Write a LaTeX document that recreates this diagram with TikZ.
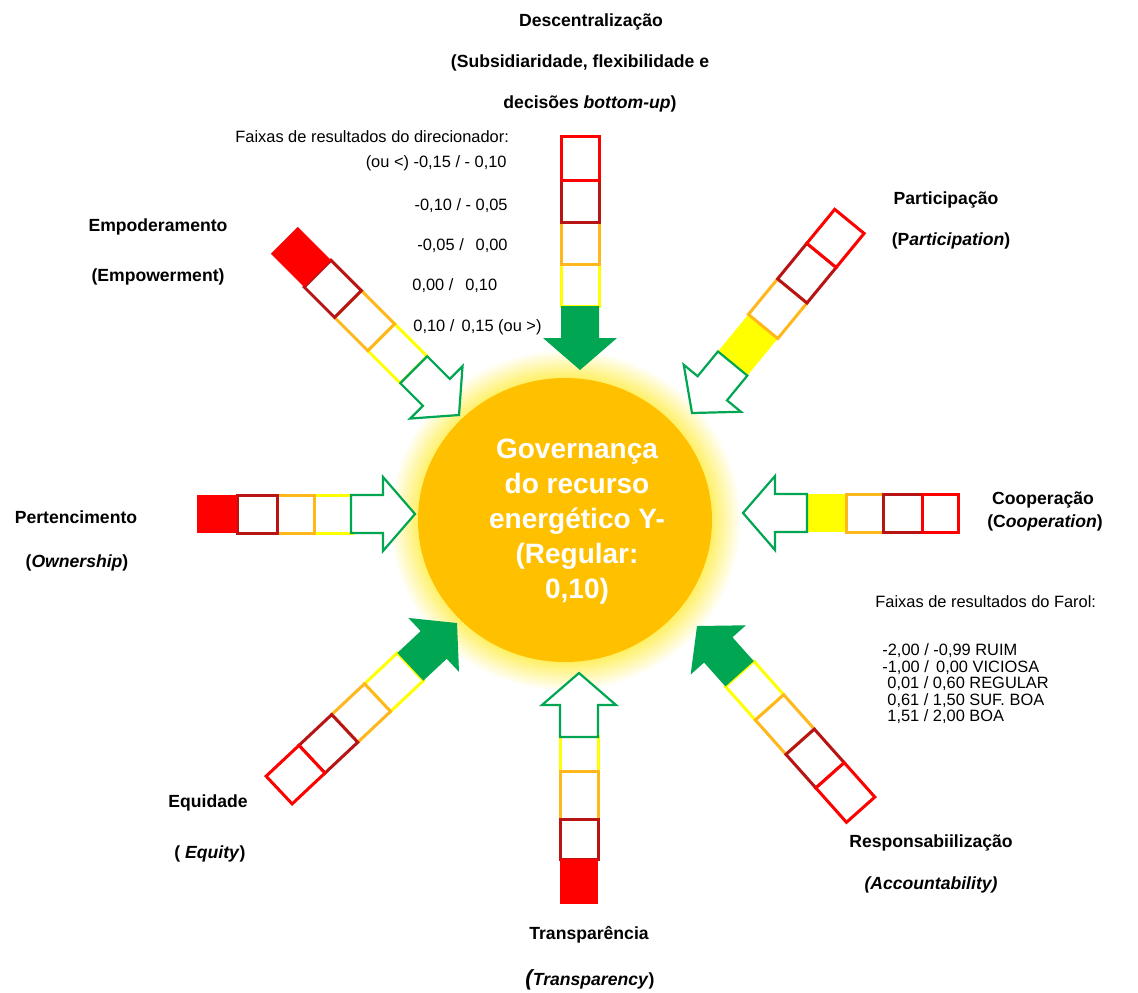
\documentclass[tikz,border=0pt]{standalone}
\usepackage{fontspec}
\setmainfont{Liberation Sans}
\definecolor{cred}{HTML}{FF0000}
\definecolor{cdark}{HTML}{B81414}
\definecolor{corange}{HTML}{FFB81C}
\definecolor{cyellow}{HTML}{FFFF00}
\definecolor{cgreen}{HTML}{00A651}
\definecolor{csun}{HTML}{FFC000}
\definecolor{chalo}{HTML}{FFEF5A}
\pgfdeclareradialshading{halo}{\pgfpointorigin}{color(0bp)=(chalo); color(20.5bp)=(chalo); color(25bp)=(white); color(50bp)=(white)}
\tikzset{
  lab/.style={font=\bfseries\fontsize{8.8}{10}\selectfont, inner sep=0pt},
  small/.style={font=\fontsize{8.2}{10}\selectfont, inner sep=0pt},
  hollowhead/.style={draw=cgreen, line width=1.1pt, fill=white, line join=miter},
  solidhead/.style={fill=cgreen, draw=none},
  cellline/.style={line width=1.5pt, fill=white},
}
% #1,#2: tip; #3: outward angle; #4: head style; #5: cells start/end/colour/filled
\newcommand{\farolarrow}[5]{%
  \begin{scope}[shift={(#1,#2)}, rotate=#3, x=0.5pt, y=0.5pt]
    \foreach \a/\b/\c/\f in {#5} {
      \ifnum\f=1
        \fill[\c] (\a,-19) rectangle (\b,19);
      \else
        \draw[cellline, draw=\c] (\a,-19) rectangle (\b,19);
      \fi
    }
    \path[#4] (0,0) -- (32,37) -- (32,19) -- (64,19) -- (64,-19) -- (32,-19) -- (32,-37) -- cycle;
  \end{scope}}
\begin{document}
\begin{tikzpicture}[x=0.5pt, y=-0.5pt]
  \useasboundingbox (0,0) rectangle (1138,992);
  \fill[white] (0,0) rectangle (1138,992);

  % central sun with glow
  \shade[shading=halo] (565,520) ellipse [x radius=176, y radius=171];
  \fill[csun] (565,520) ellipse [x radius=147, y radius=142];
  \node[font=\bfseries\fontsize{14}{17.5}\selectfont, text=white, align=center, inner sep=0pt]
    (sun) at (577,522) {Governança\\do recurso\\energético Y-\\(Regular:\\0,10)};

  % the eight drivers
  \farolarrow{580}{370}{90}{solidhead}{64/106/cyellow/0, 106/148/corange/0, 148/190/cdark/0, 190/234/cred/0}
  \farolarrow{579}{673}{-90}{hollowhead}{63/98/cyellow/0, 98/146/corange/0, 146/186/cdark/0, 186/231/cred/1}
  \farolarrow{415}{514}{180}{hollowhead}{63/101/cyellow/0, 101/138/corange/0, 138/178/cdark/0, 178/218/cred/1}
  \farolarrow{743}{513}{0}{hollowhead}{65/103/cyellow/1, 103/140/corange/0, 140/179/cdark/0, 179/215/cred/0}
  \farolarrow{459}{415}{135}{hollowhead}{64/110/cyellow/0, 110/157/corange/0, 157/200/cdark/0, 200/247/cred/1}
  \farolarrow{692}{413}{50.6}{hollowhead}{64/112/cyellow/1, 112/158/corange/0, 158/204/cdark/0, 204/248/cred/0}
  \farolarrow{457}{623}{223.2}{solidhead}{64/109/cyellow/0, 109/154/corange/0, 154/199/cdark/0, 199/244/cred/0}
  \farolarrow{697}{626}{-48.3}{solidhead}{64/109/cyellow/0, 109/155/corange/0, 155/200/cdark/0, 200/246/cred/0}

  % driver labels
  \node[lab] (dec1) at (591,22) {Descentralização};
  \node[lab] (dec2) at (580,63) {(Subsidiaridade, flexibilidade e};
  \node[lab] (dec3) at (590,104) {decisões \textit{bottom-up})};
  \node[lab] (par1) at (946,200) {Participação};
  \node[lab] (par2) at (951,241) {(P\textit{articipation})};
  \node[lab] (emp1) at (158,227) {Empoderamento};
  \node[lab] (emp2) at (158,277) {(Empowerment)};
  \node[lab] (per1) at (76,517) {Pertencimento};
  \node[lab] (per2) at (77,563) {(\textit{Ownership})};
  \node[lab] (coo1) at (1043,500) {Cooperação};
  \node[lab] (coo2) at (1045,523) {(C\textit{ooperation})};
  \node[lab] (equ1) at (208,803) {Equidade};
  \node[lab] (equ2) at (210,854) {( \textit{Equity})};
  \node[lab] (tra1) at (589,935) {Transparência};
  \node[lab] (tra2) at (590,980) {{\fontsize{11}{12}\selectfont\itshape(}\textit{Transparency})};
  \node[lab] (res1) at (931,843) {Responsabiilização};
  \node[lab] (res2) at (931,885) {\textit{(Accountability)}};

  % driver result bands
  \node[small, anchor=west] (dir0) at (235,137) {Faixas de resultados do direcionador:};
  \node[small, anchor=east] (dir1) at (507,163) {(ou <) -0,15 / - 0,10};
  \node[small, anchor=east] (dir2) at (508,206) {-0,10 / - 0,05};
  \node[small, anchor=east] (dir3) at (508,246) {-0,05 / \ \,0,00};
  \node[small, anchor=west] (dir4) at (412,286) {0,00 / \ \,0,10};
  \node[small, anchor=west] (dir5) at (413,327) {0,10 / \,0,15 (ou >)};

  % lighthouse result bands
  \node[small, anchor=west] (far0) at (875,602) {Faixas de resultados do Farol:};
  \node[small, anchor=west] (far1) at (882,651) {-2,00 / -0,99 RUIM};
  \node[small, anchor=west] (far2) at (882,668) {-1,00 / \,0,00 VICIOSA};
  \node[small, anchor=west] (far3) at (887,684) {0,01 / 0,60 REGULAR};
  \node[small, anchor=west] (far4) at (887,701) {0,61 / 1,50 SUF. BOA};
  \node[small, anchor=west] (far5) at (887,717) {1,51 / 2,00 BOA};
\end{tikzpicture}
\end{document}
